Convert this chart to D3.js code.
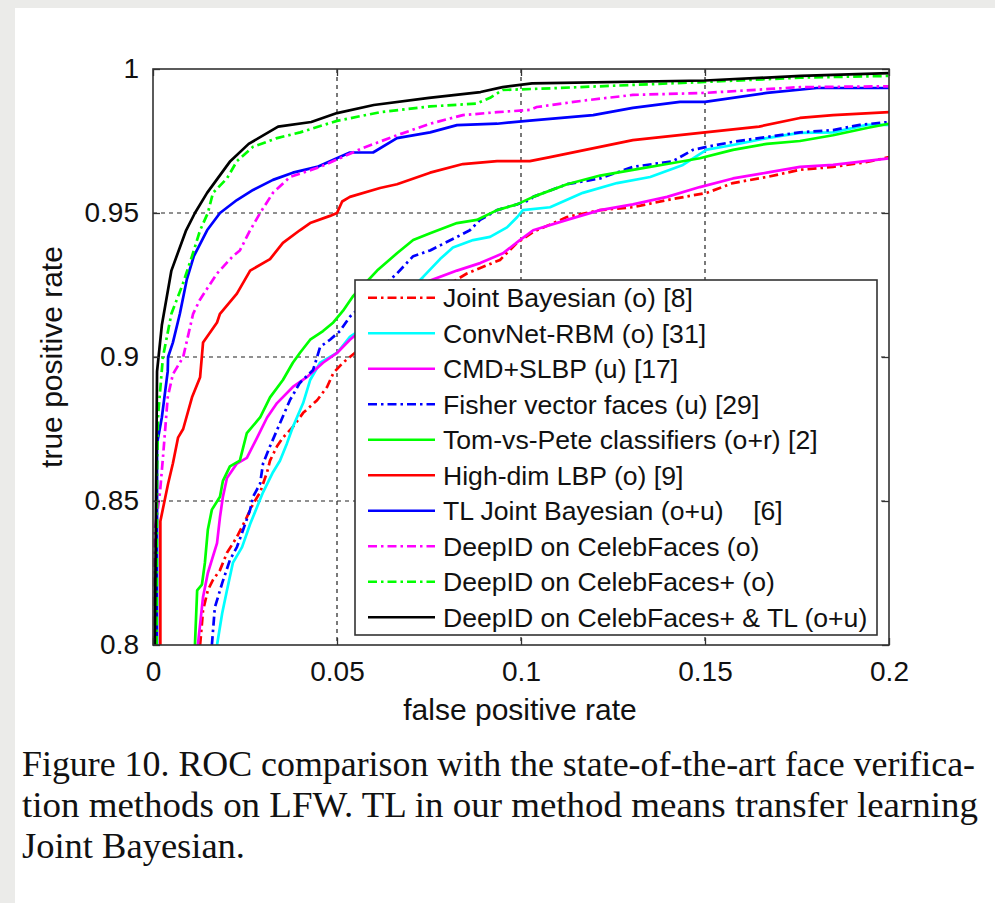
<!DOCTYPE html>
<html>
<head>
<meta charset="utf-8">
<script src="https://cdn.jsdelivr.net/npm/d3@7"></script>
<style>
  html, body { margin: 0; padding: 0; background: #fff; }
  svg { display: block; }
</style>
</head>
<body>
<div id="chart"></div>
<script>
// ROC points [false positive rate, true positive rate]
const jointBayesian = [[0.0128,0.80],[0.0136,0.812],[0.0149,0.819],[0.0163,0.8226],[0.0182,0.826],[0.0201,0.832],[0.0228,0.8375],[0.0255,0.8444],[0.0272,0.849],[0.0291,0.853],[0.031,0.86],[0.0318,0.864],[0.0337,0.869],[0.0353,0.872],[0.038,0.8757],[0.0408,0.8806],[0.0446,0.885],[0.0473,0.8896],[0.049,0.8944],[0.0516,0.898],[0.0535,0.90],[0.071,0.918],[0.0853,0.929],[0.0943,0.9337],[0.0989,0.9396],[0.1033,0.9434],[0.1125,0.9486],[0.1215,0.951],[0.1304,0.952],[0.1397,0.9545],[0.1505,0.957],[0.1576,0.9604],[0.1668,0.9625],[0.1758,0.965],[0.1848,0.966],[0.194,0.9677],[0.2,0.9694]];
const convNetRBM = [[0.0174,0.80],[0.0188,0.811],[0.0201,0.819],[0.0217,0.8285],[0.0242,0.834],[0.0264,0.842],[0.0283,0.848],[0.0299,0.853],[0.0326,0.86],[0.0345,0.864],[0.0364,0.87],[0.038,0.8757],[0.0408,0.884],[0.0427,0.892],[0.0454,0.898],[0.05,0.9014],[0.0535,0.907],[0.065,0.917],[0.0734,0.9278],[0.078,0.934],[0.0815,0.938],[0.087,0.9406],[0.0916,0.9417],[0.0962,0.945],[0.099,0.9486],[0.1005,0.951],[0.1079,0.952],[0.1168,0.957],[0.1261,0.9604],[0.1351,0.9625],[0.144,0.9667],[0.1505,0.972],[0.1576,0.9736],[0.1668,0.976],[0.1758,0.9778],[0.1848,0.978],[0.194,0.9806],[0.2,0.9806]];
const cmdSlbp = [[0.0122,0.80],[0.0136,0.8167],[0.0149,0.825],[0.0174,0.8354],[0.0182,0.8444],[0.019,0.8515],[0.0201,0.858],[0.0228,0.863],[0.0255,0.865],[0.0283,0.872],[0.031,0.879],[0.0337,0.884],[0.038,0.8896],[0.0418,0.893],[0.0462,0.898],[0.05,0.9014],[0.0535,0.906],[0.062,0.915],[0.07,0.924],[0.0826,0.93],[0.0889,0.9326],[0.0951,0.936],[0.0997,0.9406],[0.1033,0.944],[0.1125,0.9476],[0.1215,0.951],[0.1304,0.953],[0.1397,0.9556],[0.1486,0.959],[0.1576,0.962],[0.1668,0.964],[0.1758,0.966],[0.1848,0.9667],[0.2,0.969]];
const fisherVector = [[0.016,0.80],[0.0168,0.813],[0.0188,0.8215],[0.0209,0.8295],[0.0228,0.834],[0.0245,0.84],[0.0264,0.847],[0.0272,0.8515],[0.0291,0.856],[0.0299,0.863],[0.0318,0.869],[0.0345,0.877],[0.0372,0.885],[0.0399,0.891],[0.0435,0.8955],[0.0446,0.90],[0.0454,0.9035],[0.0481,0.906],[0.0508,0.909],[0.0535,0.914],[0.0663,0.929],[0.0707,0.935],[0.0753,0.937],[0.0826,0.9417],[0.0861,0.944],[0.0889,0.9476],[0.0935,0.951],[0.0989,0.953],[0.1024,0.9545],[0.1033,0.9556],[0.1125,0.96],[0.1215,0.962],[0.1304,0.966],[0.1413,0.968],[0.1467,0.9719],[0.1505,0.973],[0.1576,0.9747],[0.1668,0.9764],[0.1758,0.978],[0.1848,0.9788],[0.1921,0.9806],[0.2,0.9816]];
const tomVsPete = [[0.0114,0.80],[0.012,0.819],[0.0133,0.821],[0.0141,0.8285],[0.0149,0.84],[0.016,0.847],[0.0182,0.8515],[0.019,0.857],[0.0209,0.862],[0.0236,0.864],[0.0255,0.8736],[0.0291,0.879],[0.0318,0.886],[0.0353,0.892],[0.038,0.898],[0.0399,0.9014],[0.0427,0.906],[0.0462,0.909],[0.049,0.912],[0.0516,0.916],[0.0543,0.921],[0.0609,0.93],[0.0663,0.936],[0.0707,0.9406],[0.0753,0.943],[0.0826,0.9465],[0.088,0.9476],[0.0935,0.951],[0.0989,0.953],[0.1033,0.9556],[0.1125,0.96],[0.1215,0.963],[0.1304,0.965],[0.1397,0.967],[0.1486,0.969],[0.1576,0.9719],[0.1668,0.974],[0.1758,0.975],[0.1848,0.977],[0.194,0.9795],[0.2,0.981]];
const highDimLbp = [[0.002,0.80],[0.002,0.843],[0.0041,0.856],[0.0054,0.863],[0.0068,0.872],[0.0082,0.875],[0.0106,0.886],[0.0128,0.893],[0.0136,0.905],[0.0174,0.912],[0.0182,0.915],[0.0228,0.922],[0.0264,0.93],[0.0318,0.934],[0.0353,0.9396],[0.0399,0.944],[0.0427,0.9465],[0.0481,0.949],[0.05,0.95],[0.0514,0.954],[0.0535,0.9556],[0.0617,0.9587],[0.0663,0.96],[0.0753,0.964],[0.0842,0.967],[0.0935,0.968],[0.1024,0.968],[0.1079,0.9694],[0.1304,0.9753],[0.15,0.978],[0.1647,0.98],[0.1758,0.983],[0.1848,0.984],[0.2,0.985]];
const tlJointBayesian = [[0.0011,0.80],[0.0011,0.85],[0.0011,0.87],[0.0024,0.879],[0.004,0.895],[0.0041,0.90],[0.0054,0.905],[0.0073,0.915],[0.0092,0.927],[0.0111,0.935],[0.0147,0.944],[0.0182,0.95],[0.0228,0.9545],[0.0272,0.958],[0.0326,0.9615],[0.038,0.964],[0.0446,0.966],[0.0481,0.968],[0.0535,0.971],[0.0598,0.971],[0.0663,0.976],[0.0753,0.978],[0.0826,0.9805],[0.0935,0.981],[0.1016,0.982],[0.1196,0.984],[0.1304,0.9865],[0.1432,0.9886],[0.15,0.9886],[0.1668,0.9917],[0.1804,0.9934],[0.2,0.9934]];
const deepIdCeleb = [[0.0005,0.80],[0.0005,0.84],[0.0019,0.853],[0.0027,0.865],[0.004,0.886],[0.0054,0.894],[0.0082,0.90],[0.0109,0.915],[0.0128,0.92],[0.0174,0.929],[0.0217,0.935],[0.0236,0.937],[0.0264,0.944],[0.0291,0.95],[0.0326,0.957],[0.0372,0.9625],[0.0454,0.966],[0.0516,0.9695],[0.0571,0.9726],[0.0663,0.977],[0.0753,0.981],[0.0842,0.984],[0.0935,0.985],[0.1024,0.9858],[0.1043,0.9868],[0.1168,0.989],[0.1304,0.991],[0.15,0.9917],[0.1758,0.9937],[0.2,0.994]];
const deepIdCelebPlus = [[0.001,0.80],[0.0011,0.86],[0.0014,0.88],[0.0027,0.90],[0.005,0.915],[0.008,0.925],[0.0106,0.935],[0.0128,0.944],[0.0149,0.95],[0.0163,0.957],[0.0201,0.962],[0.0228,0.968],[0.0272,0.973],[0.0337,0.976],[0.04,0.978],[0.0462,0.9805],[0.05,0.982],[0.0617,0.985],[0.0753,0.987],[0.088,0.988],[0.0916,0.99],[0.095,0.9927],[0.11,0.9934],[0.15,0.9955],[0.176,0.997],[0.2,0.9976]];
const deepIdCelebPlusTL = [[0.0005,0.80],[0.001,0.88],[0.0011,0.895],[0.0024,0.911],[0.005,0.93],[0.009,0.944],[0.0114,0.95],[0.0147,0.957],[0.021,0.968],[0.026,0.974],[0.034,0.98],[0.043,0.9816],[0.05,0.9847],[0.06,0.9875],[0.075,0.99],[0.089,0.992],[0.095,0.9937],[0.103,0.995],[0.15,0.996],[0.176,0.9976],[0.2,0.9986]];

const seriesNames = [
  "Joint Bayesian (o) [8]",
  "ConvNet-RBM (o) [31]",
  "CMD+SLBP (u) [17]",
  "Fisher vector faces (u) [29]",
  "Tom-vs-Pete classifiers (o+r) [2]",
  "High-dim LBP (o) [9]",
  "TL Joint Bayesian (o+u)    [6]",
  "DeepID on CelebFaces (o)",
  "DeepID on CelebFaces+ (o)",
  "DeepID on CelebFaces+ & TL (o+u)"
];
const seriesData = [jointBayesian, convNetRBM, cmdSlbp, fisherVector, tomVsPete,
  highDimLbp, tlJointBayesian, deepIdCeleb, deepIdCelebPlus, deepIdCelebPlusTL];
const seriesColors = ["#ff0000", "#00ffff", "#ff00ff", "#0000ff", "#00ff00",
  "#ff0000", "#0000ff", "#ff00ff", "#00ff00", "#000000"];
const seriesDashed = [true, false, false, true, false, false, false, true, true, false];

const xTicks = [0, 0.05, 0.1, 0.15, 0.2];
const xTickLabels = ["0", "0.05", "0.1", "0.15", "0.2"];
const yTicks = [0.8, 0.85, 0.9, 0.95, 1];
const yTickLabels = ["0.8", "0.85", "0.9", "0.95", "1"];

const captionLines = [
  "Figure 10. ROC comparison with the state-of-the-art face verifica-",
  "tion methods on LFW. TL in our method means transfer learning",
  "Joint Bayesian."
];
const captionWidths = [953, 956, 223];

const W = 995, H = 903;
const plot = { left: 153, top: 69, right: 889, bottom: 645 };
const sans = "'Liberation Sans', Arial, sans-serif";
const dashDot = "9,4,2.5,4";

const svg = d3.select("#chart").append("svg")
  .attr("width", W).attr("height", H);

// photo-like frame on the page edges
svg.append("rect").attr("width", W).attr("height", H).attr("fill", "#ebebe9");
svg.append("rect").attr("x", 15).attr("y", 8).attr("width", W - 15).attr("height", H - 8)
  .attr("fill", "#fff");

const x = d3.scaleLinear().domain([0, 0.2]).range([plot.left, plot.right]);
const y = d3.scaleLinear().domain([0.8, 1]).range([plot.bottom, plot.top]);

svg.append("clipPath").attr("id", "plotClip")
  .append("rect")
  .attr("x", plot.left).attr("y", plot.top)
  .attr("width", plot.right - plot.left).attr("height", plot.bottom - plot.top);

// dashed grid
const grid = svg.append("g").attr("stroke", "#222").attr("stroke-width", 1.2)
  .attr("stroke-dasharray", "4,4");
grid.selectAll(".gx").data(xTicks.slice(1, -1)).join("line")
  .attr("x1", d => x(d)).attr("x2", d => x(d))
  .attr("y1", plot.top).attr("y2", plot.bottom);
grid.selectAll(".gy").data(yTicks.slice(1, -1)).join("line")
  .attr("x1", plot.left).attr("x2", plot.right)
  .attr("y1", d => y(d)).attr("y2", d => y(d));

// curves
const line = d3.line().x(d => x(d[0])).y(d => y(d[1]));
svg.append("g").attr("clip-path", "url(#plotClip)")
  .selectAll("path").data(seriesData).join("path")
  .attr("d", line)
  .attr("fill", "none")
  .attr("stroke", (d, i) => seriesColors[i])
  .attr("stroke-width", 2.7)
  .attr("stroke-linejoin", "round")
  .attr("stroke-dasharray", (d, i) => seriesDashed[i] ? dashDot : null);

// axes, MATLAB-style box with inward ticks
const axisStyle = g => {
  g.select(".domain").remove();
  g.selectAll(".tick line").attr("stroke", "#333").attr("stroke-width", 1.3);
  g.selectAll(".tick text").attr("fill", "#111").style("font-family", sans).style("font-size", "28px");
};
svg.append("g").attr("transform", `translate(0,${plot.bottom})`)
  .call(d3.axisBottom(x).tickValues(xTicks).tickFormat((d, i) => xTickLabels[i])
    .tickSizeInner(-7).tickPadding(16))
  .call(axisStyle);
svg.append("g").attr("transform", `translate(0,${plot.top})`)
  .call(d3.axisTop(x).tickValues(xTicks).tickFormat("").tickSizeInner(-7))
  .call(axisStyle);
svg.append("g").attr("transform", `translate(${plot.left},0)`)
  .call(d3.axisLeft(y).tickValues(yTicks).tickFormat((d, i) => yTickLabels[i])
    .tickSizeInner(-7).tickPadding(14))
  .call(axisStyle);
svg.append("g").attr("transform", `translate(${plot.right},0)`)
  .call(d3.axisRight(y).tickValues(yTicks).tickFormat("").tickSizeInner(-7))
  .call(axisStyle);
svg.append("rect")
  .attr("x", plot.left).attr("y", plot.top)
  .attr("width", plot.right - plot.left).attr("height", plot.bottom - plot.top)
  .attr("fill", "none").attr("stroke", "#333").attr("stroke-width", 1.6);

// axis titles
svg.append("text").attr("x", (plot.left + plot.right) / 2 - 1).attr("y", 720)
  .attr("text-anchor", "middle").style("font-family", sans).style("font-size", "30px")
  .attr("fill", "#111").text("false positive rate");
svg.append("text").attr("transform", "translate(62,357) rotate(-90)")
  .attr("text-anchor", "middle").style("font-family", sans).style("font-size", "30px")
  .attr("fill", "#111").text("true positive rate");

// legend
const legend = { x: 355, y: 280, w: 522, h: 355 };
const rowH = legend.h / seriesNames.length;
const lg = svg.append("g");
lg.append("rect").attr("x", legend.x).attr("y", legend.y)
  .attr("width", legend.w).attr("height", legend.h)
  .attr("fill", "#fff").attr("stroke", "#333").attr("stroke-width", 1.6);
const rows = lg.selectAll(".row").data(seriesNames).join("g")
  .attr("transform", (d, i) => `translate(${legend.x},${legend.y + rowH * (i + 0.5)})`);
rows.append("line").attr("x1", 13).attr("x2", 80)
  .attr("stroke", (d, i) => seriesColors[i]).attr("stroke-width", 2.7)
  .attr("stroke-dasharray", (d, i) => seriesDashed[i] ? dashDot : null);
rows.append("text").attr("x", 88).attr("dy", "0.35em")
  .style("font-family", sans).style("font-size", "26.6px").attr("fill", "#111")
  .style("white-space", "pre").attr("xml:space", "preserve")
  .text(d => d);

// caption
svg.append("g").selectAll("text").data(captionLines).join("text")
  .attr("x", 22).attr("y", (d, i) => 776 + i * 41)
  .attr("textLength", (d, i) => captionWidths[i])
  .attr("lengthAdjust", "spacingAndGlyphs")
  .style("font-family", "'Liberation Serif', 'Times New Roman', serif")
  .style("font-size", "35px").attr("fill", "#111")
  .text(d => d);
</script>
</body>
</html>
